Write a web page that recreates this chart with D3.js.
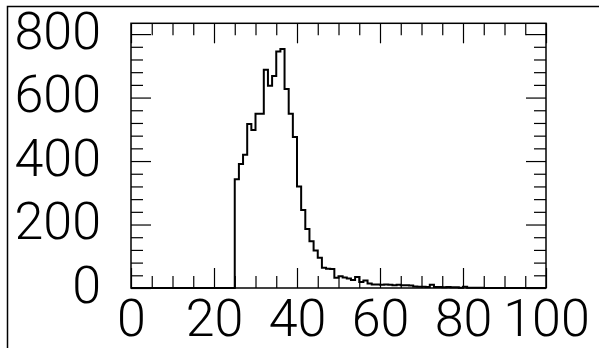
<!DOCTYPE html>
<html>
<head>
<meta charset="utf-8">
<script src="https://cdn.jsdelivr.net/npm/d3@7"></script>
<style>
  html, body { margin: 0; padding: 0; background: #fff; }
  svg { display: block; }
</style>
</head>
<body>
<div id="chart"></div>
<script>
// ---- data ----
const binStart = 25;
const binWidth = 1;
const counts = [
  343, 391, 420, 517, 498, 549, 549, 688, 637, 668,   // 25-34
  745, 753, 627, 549, 476, 320, 246, 186, 147, 118,   // 35-44
  95, 64, 61, 60, 32, 37, 33, 30, 25, 35,             // 45-54
  19, 24, 14, 11, 11, 10, 11, 10, 9, 10,              // 55-64
  9, 9, 8, 5, 4, 4, 3, 10, 3, 3,                      // 65-74
  2, 3, 2, 2, 1, 4, 1, 1, 1, 1,                       // 75-84
  0, 0, 0, 0, 0, 0, 0, 0, 0, 0,                       // 85-94
  0, 0, 0, 0, 0                                       // 95-99
];
const xTicks = [0, 20, 40, 60, 80, 100];
const xTickLabels = ["0", "20", "40", "60", "80", "100"];
const xMinorTicks = d3.range(0, 101, 5).filter(v => v % 20 !== 0);
const yTicks = [0, 200, 400, 600, 800];
const yTickLabels = ["0", "200", "400", "600", "800"];
const yMinorTicks = d3.range(0, 834, 40).filter(v => v % 200 !== 0);
const xDomain = [0, 100];
const yDomain = [0, 834];

// ---- layout ----
const W = 599, H = 348;
const svg = d3.select("#chart").append("svg").attr("width", W).attr("height", H);

// outer border (left and top visible)
svg.append("path")
  .attr("d", "M7.5,348 L7.5,6.5 L599,6.5")
  .attr("fill", "none").attr("stroke", "#000").attr("stroke-width", 1.5);

const x = d3.scaleLinear().domain(xDomain).range([131, 546]);
const y = d3.scaleLinear().domain(yDomain).range([288, 23.3]);

const fontSize = 52;
const fontFam = 'Roboto, "Liberation Sans", Arial, sans-serif';

// bottom axis (major)
const gB = svg.append("g").attr("transform", `translate(0,${y(0)})`)
  .call(d3.axisBottom(x).tickValues(xTicks).tickSize(-20).tickPadding(11)
    .tickFormat((d, i) => xTickLabels[i]));
gB.select(".domain").remove();
// bottom minor
svg.append("g").attr("transform", `translate(0,${y(0)})`)
  .call(d3.axisBottom(x).tickValues(xMinorTicks).tickSize(-12).tickFormat(""))
  .select(".domain").remove();
// top axis
svg.append("g").attr("transform", `translate(0,${y.range()[1]})`)
  .call(d3.axisTop(x).tickValues(xTicks).tickSize(-20).tickFormat(""))
  .select(".domain").remove();
svg.append("g").attr("transform", `translate(0,${y.range()[1]})`)
  .call(d3.axisTop(x).tickValues(xMinorTicks).tickSize(-12).tickFormat(""))
  .select(".domain").remove();

// left axis
const gL = svg.append("g").attr("transform", `translate(${x(0)},0)`)
  .call(d3.axisLeft(y).tickValues(yTicks).tickSize(-20).tickPadding(30)
    .tickFormat((d, i) => yTickLabels[i]));
gL.select(".domain").remove();
svg.append("g").attr("transform", `translate(${x(0)},0)`)
  .call(d3.axisLeft(y).tickValues(yMinorTicks).tickSize(-12).tickFormat(""))
  .select(".domain").remove();
// right axis
svg.append("g").attr("transform", `translate(${x(100)},0)`)
  .call(d3.axisRight(y).tickValues(yTicks).tickSize(-20).tickFormat(""))
  .select(".domain").remove();
svg.append("g").attr("transform", `translate(${x(100)},0)`)
  .call(d3.axisRight(y).tickValues(yMinorTicks).tickSize(-12).tickFormat(""))
  .select(".domain").remove();

svg.selectAll(".tick line").attr("stroke", "#000").attr("stroke-width", 1.2);
svg.selectAll(".tick text")
  .attr("fill", "#000")
  .style("font-size", fontSize + "px")
  .style("font-weight", 300)
  .style("font-family", fontFam);
gL.selectAll(".tick text").attr("dy", "0.27em");

// frame
svg.append("rect")
  .attr("x", x(0)).attr("y", y.range()[1])
  .attr("width", x(100) - x(0)).attr("height", y(0) - y.range()[1])
  .attr("fill", "none").attr("stroke", "#000").attr("stroke-width", 1.5);

// histogram as step line
const pts = [[xDomain[0], 0]];
counts.forEach((c, i) => pts.push([binStart + i * binWidth, c]));
pts.push([binStart + counts.length * binWidth, 0]);
const line = d3.line().x(d => x(d[0])).y(d => y(d[1])).curve(d3.curveStepAfter);
svg.append("path")
  .attr("d", line(pts))
  .attr("fill", "none").attr("stroke", "#000").attr("stroke-width", 2);
</script>
</body>
</html>
